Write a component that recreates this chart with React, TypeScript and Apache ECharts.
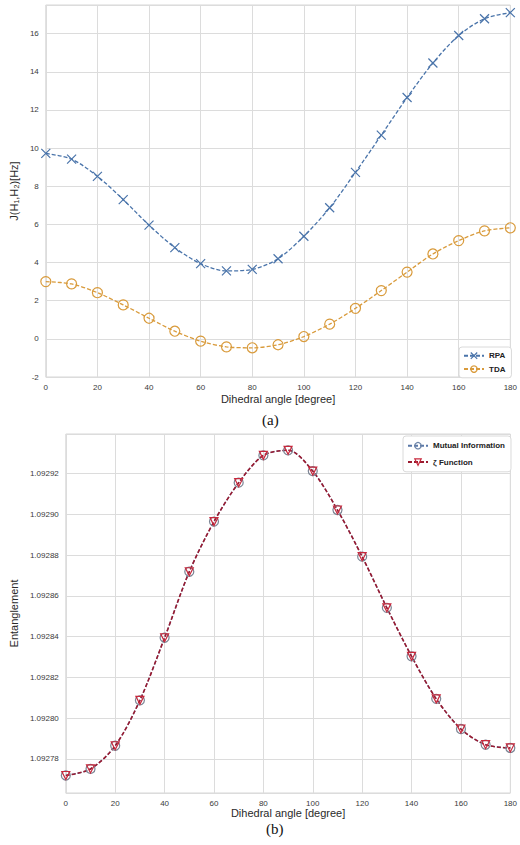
import React, { useEffect, useRef } from "react";
import * as echarts from "echarts";

const angles = [0, 10, 20, 30, 40, 50, 60, 70, 80, 90, 100, 110, 120, 130, 140, 150, 160, 170, 180];
const rpa = [9.72, 9.42, 8.52, 7.3, 5.96, 4.78, 3.94, 3.56, 3.64, 4.2, 5.38, 6.87, 8.73, 10.68, 12.65, 14.46, 15.9, 16.78, 17.1];
const tda = [3.0, 2.88, 2.42, 1.78, 1.08, 0.4, -0.12, -0.42, -0.47, -0.31, 0.12, 0.77, 1.6, 2.53, 3.5, 4.45, 5.15, 5.66, 5.82];
const mutualInfo = [1.0927719, 1.0927751, 1.0927865, 1.0928088, 1.0928395, 1.0928719, 1.0928965, 1.0929156, 1.092929, 1.0929315, 1.0929213, 1.0929022, 1.0928793, 1.0928542, 1.0928304, 1.0928095, 1.0927947, 1.092787, 1.0927854];
const zetaFunction = [1.0927719, 1.0927751, 1.0927865, 1.0928088, 1.0928395, 1.0928719, 1.0928965, 1.0929156, 1.092929, 1.0929315, 1.0929213, 1.0929022, 1.0928793, 1.0928542, 1.0928304, 1.0928095, 1.0927947, 1.092787, 1.0927854];
const xTicks = { min: 0, max: 180, interval: 20 };

const pairs = (ys: number[]) => angles.map((a, i) => [a, ys[i]]);

const BLUE = "#4a74aa";
const GOLD = "#d99b3c";
const XMARK = "path://M0,0L10,10M10,0L0,10";

const tickFont = { fontSize: 8, color: "#3a3a3a", fontFamily: "Liberation Sans, Arial, sans-serif" };
const nameFont = { fontSize: 11, color: "#2a2a2a", fontFamily: "Liberation Sans, Arial, sans-serif" };
const legendFont = { fontSize: 8, fontWeight: "bold", color: "#222", fontFamily: "Liberation Sans, Arial, sans-serif" };
const gridLine = { show: true, lineStyle: { color: "#dcdcdc", width: 1 } };

export default function App() {
  const ref = useRef<HTMLDivElement>(null);
  useEffect(() => {
    const chart = echarts.init(ref.current!, null, { renderer: "svg" });
    const xAxisBase = {
      type: "value",
      min: xTicks.min,
      max: xTicks.max,
      interval: xTicks.interval,
      axisLine: { show: false },
      axisTick: { show: false },
      splitLine: gridLine,
      axisLabel: { ...tickFont, margin: 6 },
      name: "Dihedral angle [degree]",
      nameLocation: "middle",
      nameTextStyle: nameFont,
    };
    const option: any = {
      animation: false,
      backgroundColor: "#ffffff",
      grid: [
        { left: 35, top: 5, right: 8, height: 372, show: true, borderColor: "#d6d6d6", borderWidth: 1 },
        { left: 52, top: 434, right: 8, height: 359, show: true, borderColor: "#d6d6d6", borderWidth: 1 },
      ],
      xAxis: [
        { ...xAxisBase, gridIndex: 0, nameGap: 16 },
        { ...xAxisBase, gridIndex: 1, nameGap: 12 },
      ],
      yAxis: [
        {
          type: "value",
          gridIndex: 0,
          min: -2,
          max: 17.5,
          interval: 2,
          axisLine: { show: false },
          axisTick: { show: false },
          splitLine: gridLine,
          axisLabel: { ...tickFont, margin: 7, showMaxLabel: false },
          name: "J(H₁,H₂)[Hz]",
          nameLocation: "middle",
          nameGap: 20,
          nameTextStyle: nameFont,
        },
        {
          type: "value",
          gridIndex: 1,
          min: 1.0927633,
          max: 1.0929395,
          splitNumber: 8,
          axisLine: { show: false },
          axisTick: { show: false },
          splitLine: gridLine,
          axisLabel: {
            ...tickFont,
            margin: 7,
            showMinLabel: false,
            showMaxLabel: false,
            formatter: (v: number) => v.toFixed(5),
          },
          name: "Entanglement",
          nameLocation: "middle",
          nameGap: 38,
          nameTextStyle: nameFont,
        },
      ],
      legend: [
        {
          data: [
            { name: "RPA", itemStyle: { color: "none", borderColor: BLUE, borderWidth: 1.2 } },
            { name: "TDA", itemStyle: { color: "none", borderColor: GOLD, borderWidth: 1.2 } },
          ],
          orient: "vertical",
          left: 459,
          top: 347,
          backgroundColor: "#ffffff",
          borderColor: "#dadada",
          borderWidth: 1,
          borderRadius: 3,
          padding: [3, 6, 3, 4],
          itemWidth: 20,
          itemHeight: 8,
          itemGap: 2,
          textStyle: legendFont,
        },
        {
          data: [
            { name: "Mutual Information", itemStyle: { color: "none", borderColor: "#6f86a8", borderWidth: 1.2 } },
            { name: "ζ Function", itemStyle: { color: "none", borderColor: "#c8283c", borderWidth: 1.2 } },
          ],
          orient: "vertical",
          left: 403,
          top: 436,
          backgroundColor: "#ffffff",
          borderColor: "#dadada",
          borderWidth: 1,
          borderRadius: 3,
          padding: [4, 6, 4, 4],
          itemWidth: 20,
          itemHeight: 8,
          itemGap: 5,
          textStyle: legendFont,
        },
      ],
      graphic: [
        { type: "text", left: 262, top: 412, style: { text: "(a)", fontSize: 15, fontFamily: "Liberation Serif, Times New Roman, serif", fill: "#111" } },
        { type: "text", left: 266, top: 821, style: { text: "(b)", fontSize: 15, fontFamily: "Liberation Serif, Times New Roman, serif", fill: "#111" } },
      ],
      series: [
        {
          name: "RPA",
          type: "line",
          xAxisIndex: 0,
          yAxisIndex: 0,
          data: pairs(rpa),
          smooth: 0.3,
          symbol: XMARK,
          symbolSize: 9,
          lineStyle: { color: BLUE, width: 1.3, type: [4, 2] },
          itemStyle: { color: "none", borderColor: BLUE, borderWidth: 1.2 },
        },
        {
          name: "TDA",
          type: "line",
          xAxisIndex: 0,
          yAxisIndex: 0,
          data: pairs(tda),
          smooth: 0.3,
          symbol: "circle",
          symbolSize: 10,
          lineStyle: { color: GOLD, width: 1.3, type: [4, 2] },
          itemStyle: { color: "none", borderColor: GOLD, borderWidth: 1.2 },
        },
        {
          name: "Mutual Information",
          type: "line",
          xAxisIndex: 1,
          yAxisIndex: 1,
          data: pairs(mutualInfo),
          smooth: 0.3,
          symbol: "circle",
          symbolSize: 9,
          lineStyle: { color: "#5a78a8", width: 1.3, type: [4, 2] },
          itemStyle: { color: "none", borderColor: "#7b8494", borderWidth: 1.2 },
        },
        {
          name: "ζ Function",
          type: "line",
          xAxisIndex: 1,
          yAxisIndex: 1,
          data: pairs(zetaFunction),
          smooth: 0.3,
          symbol: "triangle",
          symbolRotate: 180,
          symbolSize: 8,
          lineStyle: { color: "#9b1b30", width: 1.6, type: [4, 2] },
          itemStyle: { color: "none", borderColor: "#c8283c", borderWidth: 1.2 },
        },
      ],
    };
    chart.setOption(option);
    return () => chart.dispose();
  }, []);
  return <div ref={ref} style={{ position: "fixed", left: 0, top: 0, width: 520, height: 845 }} />;
}
